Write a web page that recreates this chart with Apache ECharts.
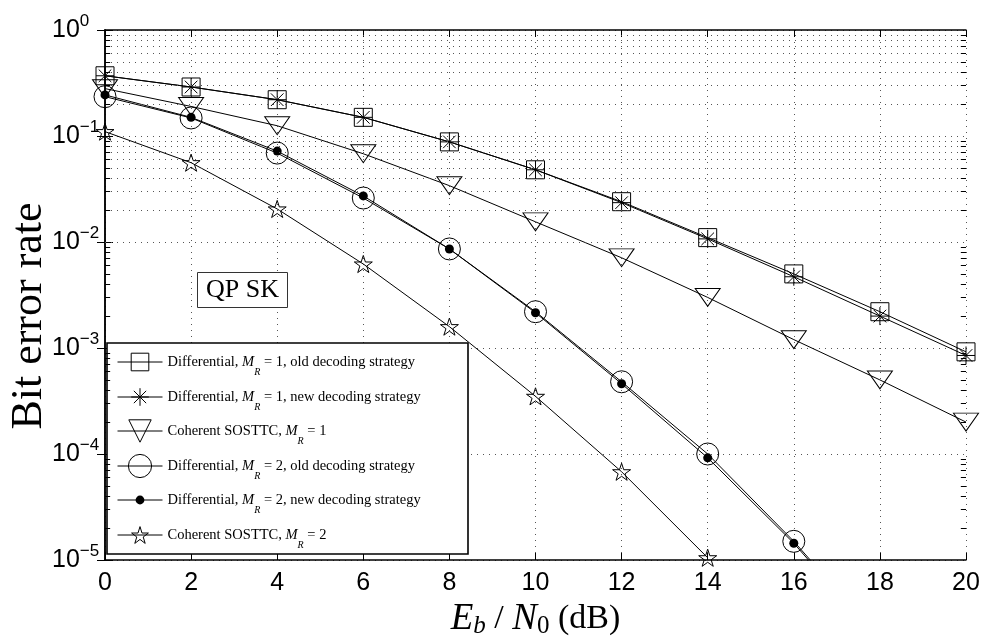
<!DOCTYPE html>
<html>
<head>
<meta charset="utf-8">
<script src="https://cdn.jsdelivr.net/npm/echarts@6/dist/echarts.min.js"></script>
<style>
  html, body { margin: 0; padding: 0; background: #fff; }
  #main { width: 995px; height: 638px; }
</style>
</head>
<body>
<div id="main"></div>
<script>
// Eb/N0 (dB)
var snr = [0, 2, 4, 6, 8, 10, 12, 14, 16, 18, 20];
var xTicks = [0, 2, 4, 6, 8, 10, 12, 14, 16, 18, 20];

// bit error rate
var diffOldMR1 = [0.37, 0.29, 0.22, 0.15, 0.088, 0.048, 0.024, 0.011, 0.0050, 0.0022, 0.00092];
var diffNewMR1 = [0.37, 0.29, 0.22, 0.15, 0.088, 0.048, 0.0235, 0.0107, 0.0047, 0.0020, 0.00085];
var cohMR1     = [0.28, 0.19, 0.125, 0.068, 0.034, 0.0155, 0.0071, 0.0030, 0.0012, 0.00050, 0.00020];
var diffOldMR2 = [0.235, 0.148, 0.069, 0.026, 0.0086, 0.0022, 0.00048, 0.000100, 0.0000150, 0.0000018];
var diffNewMR2 = [0.244, 0.150, 0.072, 0.0272, 0.0086, 0.00215, 0.00046, 0.000092, 0.0000144, 0.0000017];
var cohMR2     = [0.11, 0.056, 0.0205, 0.0062, 0.00159, 0.00035, 0.000068, 0.0000105];

var names = [
  'Differential, M_R = 1, old decoding strategy',
  'Differential, M_R = 1, new decoding strategy',
  'Coherent SOSTTC, M_R = 1',
  'Differential, M_R = 2, old decoding strategy',
  'Differential, M_R = 2, new decoding strategy',
  'Coherent SOSTTC, M_R = 2'
];

var serif = 'Liberation Serif';
var sans = 'Liberation Sans';

var asterisk = 'path://M10,0L10,20M0,10L20,10M3,3L17,17M3,17L17,3';
var triDown = 'path://M0,0L20,0L10,17Z';
var star = 'path://M10,0L12.24,6.91L19.51,6.91L13.63,11.18L15.88,18.09L10,13.82L4.12,18.09L6.37,11.18L0.49,6.91L7.76,6.91Z';

function pairs(arr) {
  return arr.map(function (v, i) { return [snr[i], v]; });
}

// minor log grid values 2..9 x 10^k
var minorVals = [];
for (var k = -5; k < 0; k++) {
  for (var m = 2; m <= 9; m++) minorVals.push(m * Math.pow(10, k));
}
var gridLines = minorVals.map(function (v) { return { yAxis: v }; });
var minorTicks = [];
minorVals.forEach(function (v) {
  minorTicks.push([{ coord: [0, v] }, { coord: [0.12, v] }]);
  minorTicks.push([{ coord: [19.88, v] }, { coord: [20, v] }]);
});

var dotted = { color: '#555', width: 1, type: [1, 5] };
var hollow = { color: 'transparent', borderColor: '#000', borderWidth: 1 };

function mkSeries(name, data, symbol, size, itemStyle) {
  return {
    name: name, type: 'line', data: pairs(data),
    symbol: symbol, symbolSize: size, symbolKeepAspect: true,
    lineStyle: { color: '#000', width: 1 },
    itemStyle: itemStyle,
    clip: true, z: 3
  };
}

var rowTop = [347, 382, 416, 451, 485, 520];
var iconH = [22, 22, 28, 29, 11, 21];
var legendRich = {
  t: { fontFamily: serif, fontSize: 14.5, color: '#000', lineHeight: 30 },
  i: { fontFamily: serif, fontSize: 14.5, fontStyle: 'italic', color: '#000', lineHeight: 30 },
  s: { fontFamily: serif, fontSize: 10, fontStyle: 'italic', color: '#000', lineHeight: 20, verticalAlign: 'bottom' }
};
var legends = names.map(function (n, idx) {
  return {
    data: [n], left: 117, top: rowTop[idx], padding: 0,
    itemWidth: 45, itemHeight: iconH[idx],
    selectedMode: false,
    textStyle: { fontFamily: serif, fontSize: 14.5, color: '#000', lineHeight: 30, rich: legendRich },
    lineStyle: { color: '#000', width: 1 },
    itemStyle: idx === 4 ? { color: '#000', borderWidth: 0 } : { color: 'transparent', borderColor: '#000', borderWidth: 1 },
    formatter: function (name) {
      var p = name.split('M_R');
      return '{t|' + p[0] + '}{i|M}{s|R}{t|' + p[1] + '}';
    },
    z: 5
  };
});

var chart = echarts.init(document.getElementById('main'), null, { renderer: 'canvas' });
chart.setOption({
  animation: false,
  backgroundColor: '#fff',
  title: {
    text: 'QP SK', left: 197, top: 272,
    padding: [3, 9, 3, 9],
    borderColor: '#333', borderWidth: 1, backgroundColor: '#fff',
    textStyle: { fontFamily: serif, fontSize: 26, fontWeight: 'normal', color: '#000', lineHeight: 30 }
  },
  grid: { left: 105, right: 29, top: 30, bottom: 78, outerBoundsMode: 'none' },
  legend: legends,
  graphic: {
    elements: [{
      type: 'rect', z: 3,
      shape: { x: 107, y: 343, width: 361, height: 211 },
      style: { fill: '#fff', stroke: '#000', lineWidth: 1.6 }
    }]
  },
  xAxis: [{
    type: 'value', min: 0, max: 20, interval: 2,
    axisLine: { lineStyle: { color: '#000', width: 1.5 } },
    axisTick: { inside: true, length: 7, lineStyle: { color: '#000' } },
    axisLabel: {
      fontFamily: sans, fontSize: 25, color: '#000', margin: 11,
      formatter: function (v) { return xTicks.indexOf(v) >= 0 ? String(v) : ''; }
    },
    splitLine: { show: true, lineStyle: dotted },
    name: '{i|E}{sb|b}{n| / }{i|N}{s0|0}{n| (dB)}',
    nameLocation: 'middle', nameGap: 36,
    nameTextStyle: {
      rich: {
        i: { fontFamily: serif, fontSize: 37, fontStyle: 'italic', color: '#000', lineHeight: 40 },
        sb: { fontFamily: serif, fontSize: 25, fontStyle: 'italic', color: '#000', lineHeight: 28, verticalAlign: 'bottom' },
        s0: { fontFamily: serif, fontSize: 25, color: '#000', lineHeight: 28, verticalAlign: 'bottom' },
        n: { fontFamily: serif, fontSize: 34, color: '#000', lineHeight: 40 }
      }
    }
  }, {
    type: 'value', position: 'top', min: 0, max: 20, interval: 2,
    axisLine: { lineStyle: { color: '#000', width: 1.5 } },
    axisTick: { inside: true, length: 7, lineStyle: { color: '#000' } },
    axisLabel: { show: false }, splitLine: { show: false }
  }],
  yAxis: [{
    type: 'log', logBase: 10, min: 0.00001, max: 1,
    axisLine: { show: true, lineStyle: { color: '#000', width: 1.5 } },
    axisTick: { show: true, inside: true, length: 8, lineStyle: { color: '#000' } },
    axisLabel: {
      margin: 53, align: 'left',
      formatter: function (v) {
        var e = Math.round(Math.log10(v));
        return '{b|10}{e|' + (e === 0 ? '0' : '\u2212' + (-e)) + '}';
      },
      rich: {
        b: { fontFamily: sans, fontSize: 25, color: '#000', lineHeight: 34 },
        e: { fontFamily: sans, fontSize: 17, color: '#000', lineHeight: 17, verticalAlign: 'top' }
      }
    },
    splitLine: { show: true, lineStyle: dotted },
    name: 'Bit error rate', nameLocation: 'middle', nameGap: 54, nameRotate: 90,
    nameMoveOverlap: false,
    nameTextStyle: { fontFamily: serif, fontSize: 44, color: '#000', padding: [0, 42, 0, 0] }
  }, {
    type: 'log', logBase: 10, min: 0.00001, max: 1, position: 'right',
    axisLine: { show: true, lineStyle: { color: '#000', width: 1.5 } },
    axisTick: { show: true, inside: true, length: 8, lineStyle: { color: '#000' } },
    axisLabel: { show: false }, splitLine: { show: false }
  }],
  series: [
    {
      name: 'grid', type: 'line', data: [], silent: true, z: 1,
      markLine: {
        silent: true, symbol: 'none', label: { show: false }, animation: false,
        lineStyle: dotted, data: gridLines
      }
    },
    {
      name: 'ticks', type: 'line', data: [], silent: true, z: 1,
      markLine: {
        silent: true, symbol: 'none', label: { show: false }, animation: false,
        lineStyle: { color: '#000', width: 1, type: 'solid' }, data: minorTicks
      }
    },
    mkSeries(names[0], diffOldMR1, 'rect', 18, hollow),
    mkSeries(names[1], diffNewMR1, asterisk, 18, hollow),
    mkSeries(names[2], cohMR1, triDown, [25, 21], hollow),
    mkSeries(names[3], diffOldMR2, 'circle', 22, hollow),
    mkSeries(names[4], diffNewMR2, 'circle', 9, { color: '#000' }),
    mkSeries(names[5], cohMR2, star, 18, hollow)
  ]
});
</script>
</body>
</html>
